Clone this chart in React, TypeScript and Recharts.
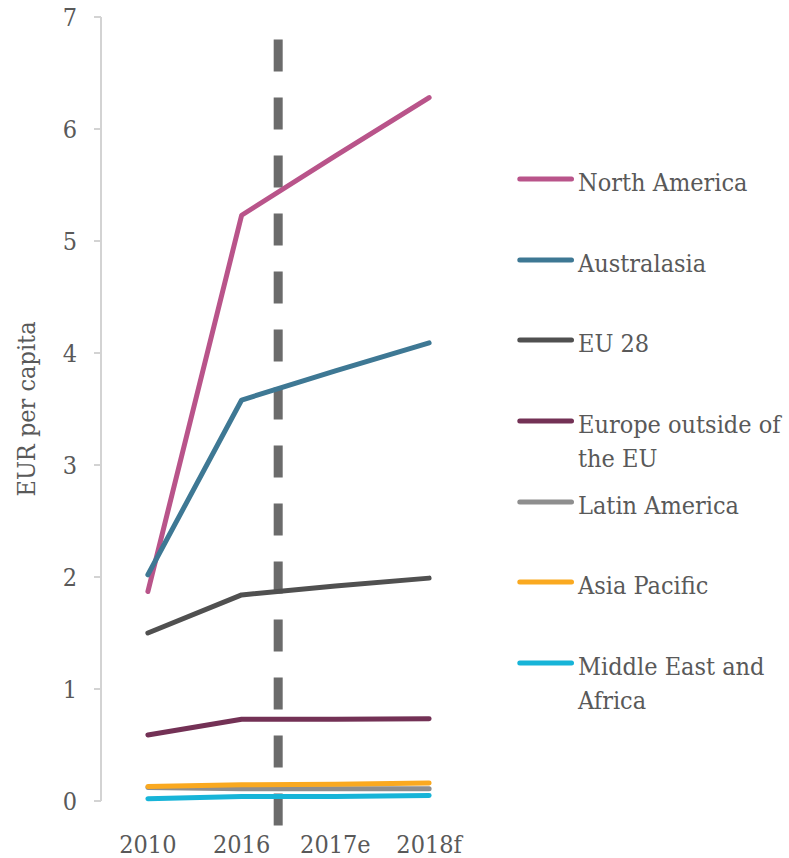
import React from 'react';
import { LineChart, Line, XAxis, YAxis, ReferenceLine, Legend } from 'recharts';

// Per-capita spending by region, EUR
const categories = ['2010', '2016', '2017e', '2018f'];
const northAmerica = [1.87, 5.23, 5.76, 6.28];
const australasia = [2.02, 3.58, 3.84, 4.09];
const eu28 = [1.5, 1.84, 1.92, 1.99];
const europeOutsideEu = [0.59, 0.73, 0.73, 0.735];
const latinAmerica = [0.12, 0.11, 0.11, 0.11];
const asiaPacific = [0.13, 0.145, 0.15, 0.16];
const middleEastAfrica = [0.02, 0.04, 0.04, 0.05];

const yTicks = [0, 1, 2, 3, 4, 5, 6, 7];

// Split between actuals and estimates/forecasts (category-index units)
const dividerPos = 1.39;
const dividerTop = 6.8;
const dividerBottom = -0.22;

const seriesKeys = ['na', 'aus', 'eu', 'eur', 'lat', 'apac', 'mea'];
const seriesNames: Record<string, string> = {
  na: 'North America',
  aus: 'Australasia',
  eu: 'EU 28',
  eur: 'Europe outside of the EU',
  lat: 'Latin America',
  apac: 'Asia Pacific',
  mea: 'Middle East and Africa',
};
const seriesValues: Record<string, number[]> = {
  na: northAmerica,
  aus: australasia,
  eu: eu28,
  eur: europeOutsideEu,
  lat: latinAmerica,
  apac: asiaPacific,
  mea: middleEastAfrica,
};
const seriesColors: Record<string, string> = {
  na: '#B9548A',
  aus: '#3E7894',
  eu: '#505050',
  eur: '#733155',
  lat: '#8E8E8E',
  apac: '#FAA920',
  mea: '#17B4D8',
};

const data = categories.map((category, i) => {
  const row: Record<string, number | string> = { pos: i, category };
  seriesKeys.forEach((k) => {
    row[k] = seriesValues[k][i];
  });
  return row;
});

const FONT = '"DejaVu Serif Condensed", "DejaVu Serif", "Liberation Serif", serif';
const TEXT = '#595959';
const AXIS = '#D3D3D3';

function LegendList(props: any) {
  const payload = [...(props.payload || [])].sort(
    (a: any, b: any) => seriesKeys.indexOf(a.dataKey) - seriesKeys.indexOf(b.dataKey)
  );
  return (
    <div style={{ position: 'relative', width: 272, height: 570 }}>
      {payload.map((entry: any, i: number) => (
        <div
          key={entry.dataKey}
          style={{ position: 'absolute', left: 0, top: i * 80.67, width: 272 }}
        >
          <svg width={60} height={34} style={{ position: 'absolute', left: 0, top: 0 }}>
            <line
              x1={2.8}
              y1={13}
              x2={54.5}
              y2={13}
              stroke={entry.color}
              strokeWidth={5}
              strokeLinecap="round"
            />
          </svg>
          <div
            style={{
              marginLeft: 61,
              width: 211,
              fontSize: 25,
              lineHeight: '34px',
              color: TEXT,
              fontFamily: FONT,
            }}
          >
            {entry.value}
          </div>
        </div>
      ))}
    </div>
  );
}

export default function App() {
  return (
    <div style={{ position: 'absolute', left: 0, top: 0, fontFamily: FONT }}>
      <LineChart
        width={789}
        height={858}
        data={data}
        margin={{ top: 17, right: 313, bottom: 0, left: 0 }}
      >
        <XAxis
          xAxisId="frame"
          type="number"
          dataKey="pos"
          domain={[-0.5, 3.5]}
          allowDataOverflow
          ticks={[-0.5, 0.5, 1.5, 2.5, 3.5]}
          tick={false}
          height={0}
          tickSize={7}
          axisLine={{ stroke: AXIS, strokeWidth: 2 }}
          tickLine={{ stroke: AXIS, strokeWidth: 2 }}
        />
        <XAxis
          type="number"
          dataKey="pos"
          domain={[-0.5, 3.5]}
          allowDataOverflow
          ticks={[0, 1, 2, 3]}
          tickFormatter={(v: number) => categories[v]}
          height={57}
          axisLine={false}
          tickLine={false}
          tickSize={0}
          tickMargin={34}
          tick={{ fill: TEXT, fontSize: 25, fontFamily: FONT }}
        />
        <YAxis
          type="number"
          domain={[0, 7]}
          ticks={yTicks}
          width={101}
          tickSize={7}
          tickMargin={17}
          axisLine={{ stroke: AXIS, strokeWidth: 2 }}
          tickLine={{ stroke: AXIS, strokeWidth: 2 }}
          tick={{ fill: TEXT, fontSize: 25, fontFamily: FONT }}
          label={{
            value: 'EUR per capita',
            angle: -90,
            position: 'insideLeft',
            offset: 26,
            fill: TEXT,
            fontSize: 25,
            fontFamily: FONT,
            style: { textAnchor: 'middle' },
          }}
        />
        <ReferenceLine
          segment={[
            { x: dividerPos, y: dividerTop },
            { x: dividerPos, y: dividerBottom },
          ]}
          ifOverflow="visible"
          stroke="#6B6B6B"
          strokeWidth={9}
          strokeDasharray="32 26"
        />
        {seriesKeys.map((k) => (
          <Line
            key={k}
            type="linear"
            dataKey={k}
            name={seriesNames[k]}
            stroke={seriesColors[k]}
            strokeWidth={5}
            strokeLinecap="round"
            strokeLinejoin="round"
            dot={false}
            activeDot={false}
            isAnimationActive={false}
          />
        ))}
        <Legend
          layout="vertical"
          align="center"
          verticalAlign="middle"
          content={<LegendList />}
          wrapperStyle={{ left: 517, top: 166, right: 'auto', bottom: 'auto', width: 272 }}
        />
      </LineChart>
    </div>
  );
}
